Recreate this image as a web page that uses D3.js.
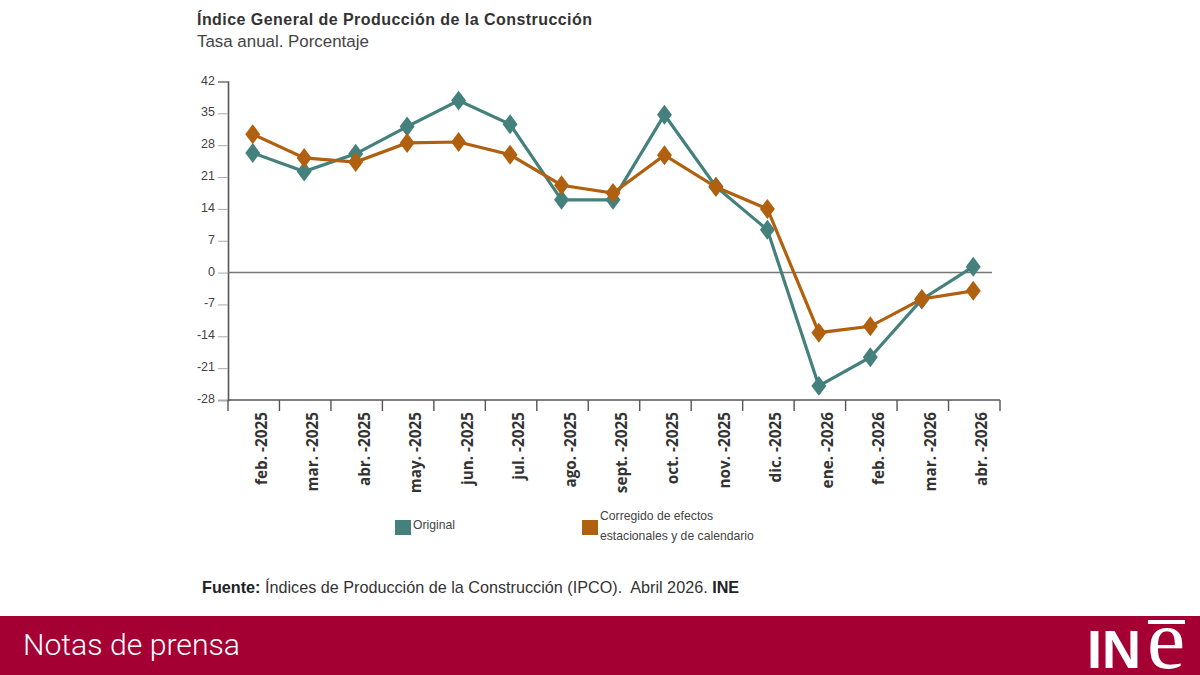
<!DOCTYPE html>
<html><head><meta charset="utf-8">
<script src="https://cdnjs.cloudflare.com/ajax/libs/d3/7.9.0/d3.min.js"></script>
<style>html,body{margin:0;background:#fff;overflow:hidden}svg{display:block}
@font-face{font-family:LogoSans;src:local('Liberation Sans Bold'),local('LiberationSans-Bold');font-weight:700;ascent-override:80%;descent-override:5%;line-gap-override:0%}
@font-face{font-family:LogoSerif;src:local('Liberation Serif'),local('LiberationSerif');ascent-override:50%;descent-override:5%;line-gap-override:0%}
</style></head>
<body><svg id="c" width="1200" height="675"></svg>
<script>
const categories=["feb.-2025","mar.-2025","abr.-2025","may.-2025","jun.-2025","jul.-2025","ago.-2025","sept.-2025","oct.-2025","nov.-2025","dic.-2025","ene.-2026","feb.-2026","mar.-2026","abr.-2026"];
const original=[26.3,22.2,26.1,32.1,37.8,32.6,16.0,16.0,34.7,18.9,9.4,-24.9,-18.6,-5.9,1.3];
const corregido=[30.4,25.2,24.3,28.5,28.7,25.9,19.2,17.5,25.8,18.8,14.0,-13.2,-11.8,-5.8,-4.0];
const yTicks=[42,35,28,21,14,7,0,-7,-14,-21,-28];
const titleText="Índice General de Producción de la Construcción";
const subtitleText="Tasa anual. Porcentaje";
const footerText="Notas de prensa";

const svg=d3.select("#c");
const x=d3.scaleBand().domain(categories).range([228,1000]);
const y=d3.scaleLinear().domain([-28,42]).range([400,81.5]);
const sans="'Liberation Sans',Arial,sans-serif";
const cx=d=>x(d)+x.bandwidth()/2-1;
const teal="#44807c",orange="#b0600f",axisC="#555";

svg.append("text").attr("x",197).attr("y",25).attr("font-family",sans).attr("font-size",16).attr("font-weight",700).attr("fill","#333").attr("letter-spacing",".45").text(titleText);
svg.append("text").attr("x",197).attr("y",47).attr("font-family",sans).attr("font-size",16.9).attr("fill","#444").text(subtitleText);

const ya=svg.append("g").attr("transform","translate(228,0)").call(d3.axisLeft(y).tickValues(yTicks).tickSize(10).tickPadding(3).tickFormat(d=>String(d)));
ya.select(".domain").attr("stroke",axisC).attr("stroke-width",1.6);
ya.selectAll(".tick line").attr("stroke","#aaa");
ya.selectAll("text").attr("font-family",sans).attr("font-size",12.5).attr("fill","#444").attr("x",-13).attr("dy",".2em");

svg.append("line").attr("x1",228).attr("x2",992).attr("y1",y(0)).attr("y2",y(0)).attr("stroke","#777").attr("stroke-width",1.5);

const edges=categories.map(d=>x(d)).concat([x.range()[1]]);
const xa=svg.append("g").attr("transform","translate(0,400)");
xa.append("line").attr("x1",228).attr("x2",1000).attr("stroke",axisC).attr("stroke-width",1.6);
xa.selectAll("line.t").data(edges).join("line").attr("class","t").attr("x1",d=>d).attr("x2",d=>d).attr("y1",0).attr("y2",11).attr("stroke",axisC).attr("stroke-width",1.4);
xa.selectAll("text").data(categories).join("text")
 .attr("transform",d=>`translate(${cx(d)+14},12) rotate(-90)`)
 .attr("text-anchor","end").attr("font-family","'Open Sans',sans-serif").attr("font-size",15.3).attr("font-weight",700).attr("fill","#333")
 .text(d=>d.replace(".-",". -"));

const line=d3.line().x((d,i)=>cx(categories[i])).y(d=>y(d));
const diamond=d3.symbol().type(d3.symbolDiamond).size(115);
[[original,teal],[corregido,orange]].forEach(([vals,col])=>{
  svg.append("path").attr("d",line(vals)).attr("fill","none").attr("stroke",col).attr("stroke-width",3.2);
  svg.append("g").selectAll("path").data(vals).join("path").attr("d",diamond)
   .attr("transform",(d,i)=>`translate(${cx(categories[i])},${y(d)}) scale(1.3,1)`).attr("fill",col);
});

// legend
svg.append("rect").attr("x",395).attr("y",520).attr("width",16).attr("height",15).attr("fill",teal);
svg.append("text").attr("x",413).attr("y",529).attr("font-family",sans).attr("font-size",12.2).attr("fill","#444").text("Original");
svg.append("rect").attr("x",582).attr("y",520).attr("width",16).attr("height",15).attr("fill",orange);
svg.append("text").attr("x",600).attr("y",520).attr("font-family",sans).attr("font-size",12.2).attr("fill","#444").text("Corregido de efectos");
svg.append("text").attr("x",600).attr("y",540).attr("font-family",sans).attr("font-size",12.2).attr("fill","#444").text("estacionales y de calendario");

// source
const src=svg.append("text").attr("x",202).attr("y",593).attr("font-family",sans).attr("font-size",16.2).attr("fill","#333").attr("xml:space","preserve");
src.append("tspan").attr("font-weight",700).attr("fill","#222").text("Fuente:");
src.append("tspan").text(" Índices de Producción de la Construcción (IPCO).  Abril 2026. ");
src.append("tspan").attr("font-weight",700).attr("fill","#222").text("INE");

// footer
svg.append("rect").attr("x",0).attr("y",616).attr("width",1200).attr("height",59).attr("fill","#a50034");
svg.append("text").attr("x",23).attr("y",655).attr("font-family","Roboto,sans-serif").attr("font-weight",300).attr("font-size",30.2).attr("fill","#fff").text(footerText);
const logo=svg.append("g").attr("fill","#fff");
logo.append("rect").attr("x",1148).attr("y",620).attr("width",37).attr("height",4);
logo.append("text").attr("x",1086.5).attr("y",668).attr("font-family","LogoSans,'Liberation Sans',sans-serif").attr("font-weight",700).attr("font-size",54).text("IN");
logo.append("text").attr("x",1147).attr("y",668).attr("font-family","LogoSerif,'Liberation Serif',serif").attr("font-size",86).text("e");
</script></body></html>
